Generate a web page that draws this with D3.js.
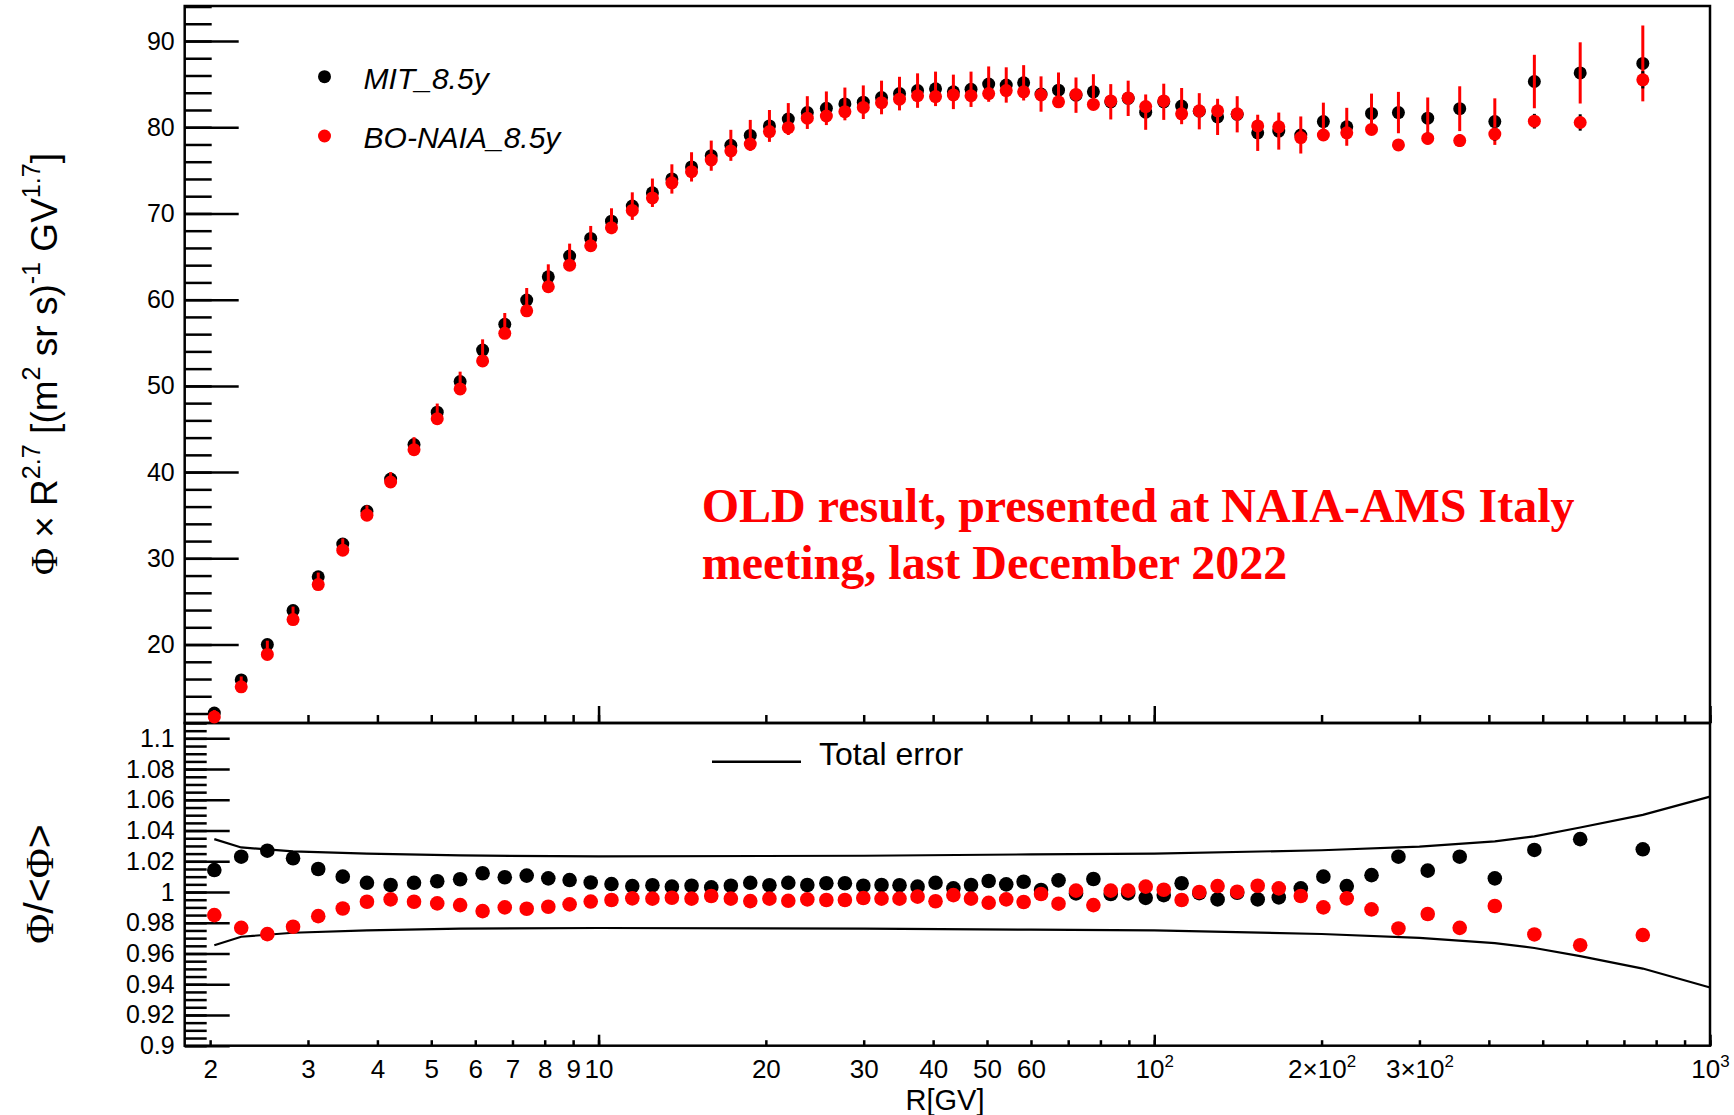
<!DOCTYPE html>
<html>
<head>
<meta charset="utf-8">
<script src="https://cdn.jsdelivr.net/npm/d3@7"></script>
<style>
  body { margin: 0; background: #fff; }
  svg { display: block; font-family: "Liberation Sans", Arial, Helvetica, sans-serif; }
</style>
</head>
<body>
<svg id="chart" width="1734" height="1115"></svg>
<script>
// Rigidity bin centres [GV]
const rigidity = [2.035, 2.275, 2.535, 2.82, 3.13, 3.465, 3.83, 4.225, 4.655, 5.125,
  5.635, 6.185, 6.78, 7.425, 8.12, 8.87, 9.68, 10.55, 11.5, 12.5,
  13.55, 14.7, 15.95, 17.3, 18.75, 20.3, 21.95, 23.75, 25.7, 27.75,
  29.95, 32.3, 34.8, 37.5, 40.4, 43.5, 46.8, 50.35, 54.15, 58.2,
  62.55, 67.25, 72.3, 77.7, 83.5, 89.75, 96.5, 104, 112, 120.5,
  130, 141, 153.5, 167.5, 183.5, 201.5, 222, 246, 275, 310.5,
  354.5, 410, 483, 584, 757];

// Flux x R^2.7, MIT analysis
const fluxMIT = [12.05, 15.9, 20.0, 23.95, 27.85, 31.65, 35.45, 39.2, 43.2, 46.95,
  50.5, 54.15, 57.15, 59.95, 62.65, 65.05, 67.1, 69.1, 70.85, 72.4,
  74.0, 75.4, 76.7, 77.9, 79.05, 80.15, 80.95, 81.7, 82.2, 82.7,
  82.9, 83.45, 83.9, 84.25, 84.45, 84.1, 84.4, 85.0, 84.9, 85.15,
  83.85, 84.3, 83.72, 84.1, 82.95, 83.35, 81.75, 82.95, 82.45, 81.85,
  81.2, 81.5, 79.35, 79.55, 79.1, 80.65, 80.05, 81.6, 81.7, 81.05,
  82.15, 80.65, 85.3, 86.3, 87.4];
const errMIT = [0.35, 0.4, 0.45, 0.45, 0.5, 0.65, 0.7, 0.8, 0.85, 1.0,
  1.15, 1.25, 1.3, 1.4, 1.45, 1.45, 1.45, 1.5, 1.6, 1.65,
  1.7, 1.7, 1.75, 1.8, 1.8, 1.85, 1.85, 1.9, 1.95, 1.9,
  1.95, 1.95, 1.95, 2.0, 2.0, 2.0, 2.05, 2.05, 2.05, 2.05,
  2.05, 2.05, 2.05, 2.05, 2.05, 2.05, 2.05, 2.1, 2.1, 2.1,
  2.1, 2.1, 2.1, 2.15, 2.15, 2.2, 2.2, 2.3, 2.4, 2.4,
  2.6, 2.7, 3.1, 3.55, 4.4];

// Flux x R^2.7, BO-NAIA analysis
const fluxBO = [11.6, 15.1, 18.85, 22.9, 26.95, 30.95, 35.0, 38.85, 42.6, 46.2,
  49.65, 52.9, 56.1, 58.7, 61.5, 64.0, 66.25, 68.35, 70.35, 71.8,
  73.55, 74.85, 76.2, 77.25, 78.05, 79.5, 79.95, 81.05, 81.3, 81.8,
  82.3, 82.85, 83.25, 83.65, 83.55, 83.75, 83.65, 83.9, 84.25, 84.1,
  83.75, 82.95, 83.8, 82.65, 83.05, 83.4, 82.4, 83.05, 81.55, 81.9,
  81.9, 81.55, 80.15, 80.05, 78.8, 79.1, 79.35, 79.75, 77.95, 78.7,
  78.45, 79.2, 80.7, 80.55, 85.5];
const errBO = [0.1, 0.1, 0.12, 0.12, 0.14, 0.15, 0.16, 0.18, 0.2, 0.2,
  0.22, 0.22, 0.24, 0.25, 0.25, 0.26, 0.26, 0.27, 0.28, 0.28,
  0.29, 0.3, 0.3, 0.3, 0.31, 0.31, 0.32, 0.32, 0.33, 0.33,
  0.34, 0.34, 0.35, 0.35, 0.36, 0.36, 0.37, 0.37, 0.38, 0.38,
  0.39, 0.4, 0.4, 0.41, 0.42, 0.43, 0.44, 0.45, 0.46, 0.47,
  0.48, 0.5, 0.52, 0.54, 0.56, 0.58, 0.6, 0.62, 0.65, 0.68,
  0.72, 0.78, 0.85, 0.95, 1.0];

// Ratio to the mean of the two analyses
const ratioMIT = [1.0143, 1.023, 1.0269, 1.022, 1.015, 1.01, 1.006, 1.0046, 1.006, 1.007,
  1.0083, 1.0122, 1.0096, 1.0107, 1.0089, 1.0078, 1.0062, 1.0052, 1.0039, 1.0044,
  1.0035, 1.0041, 1.003, 1.0041, 1.006, 1.0044, 1.006, 1.0046, 1.0057, 1.0057,
  1.0041, 1.0046, 1.0044, 1.0035, 1.006, 1.0024, 1.0046, 1.0072, 1.005, 1.0067,
  1.0013, 1.0076, 0.9991, 1.0085, 0.9987, 0.9991, 0.9962, 0.998, 1.0057, 0.9993,
  0.9952, 0.9995, 0.9952, 0.9965, 1.0024, 1.01, 1.0039, 1.011, 1.023, 1.0139,
  1.023, 1.0089, 1.0274, 1.0344, 1.0278];
const ratioBO = [0.985, 0.9767, 0.9726, 0.9774, 0.9843, 0.9893, 0.9937, 0.9952, 0.9937, 0.9926,
  0.9915, 0.9876, 0.99, 0.9891, 0.9904, 0.992, 0.9938, 0.9948, 0.9959, 0.9957,
  0.9963, 0.9957, 0.9974, 0.9957, 0.9941, 0.9957, 0.9943, 0.9952, 0.9948, 0.9948,
  0.9961, 0.9957, 0.9957, 0.997, 0.994, 0.998, 0.9957, 0.993, 0.9952, 0.9935,
  0.9987, 0.9924, 1.0009, 0.9915, 1.0009, 1.0009, 1.0035, 1.0015, 0.9948, 1.0,
  1.0039, 1.0002, 1.0041, 1.0024, 0.9974, 0.99, 0.9959, 0.9887, 0.9763, 0.9857,
  0.9767, 0.9909, 0.9724, 0.9654, 0.972];

// Total error envelope
const bandR = [2.035, 2.275, 2.82, 3.83, 5.635, 10, 30, 60, 100, 200, 300, 410, 483, 584, 757, 1000];
const bandUp = [1.0344, 1.029, 1.0265, 1.025, 1.0238, 1.0232, 1.0236, 1.0245, 1.025, 1.0272, 1.0296, 1.033, 1.0362, 1.042, 1.0502, 1.0621];
const bandLow = [0.9654, 0.9709, 0.9735, 0.975, 0.9762, 0.9766, 0.9762, 0.9755, 0.975, 0.9727, 0.9702, 0.9668, 0.9636, 0.9583, 0.9502, 0.9379];

// Axis ticks and labels
const xTickValues = [2, 3, 4, 5, 6, 7, 8, 9, 10, 20, 30, 40, 50, 60, 100, 200, 300, 1000];
const xTickLabels = ["2", "3", "4", "5", "6", "7", "8", "9", "10", "20", "30", "40", "50", "60", "10^2", "2\u00d710^2", "3\u00d710^2", "10^3"];
const yTopTicks = [20, 30, 40, 50, 60, 70, 80, 90];
const yBotTicks = [0.9, 0.92, 0.94, 0.96, 0.98, 1, 1.02, 1.04, 1.06, 1.08, 1.1];
const yBotLabels = ["0.9", "0.92", "0.94", "0.96", "0.98", "1", "1.02", "1.04", "1.06", "1.08", "1.1"];

const seriesNames = ["MIT_8.5y", "BO-NAIA_8.5y"];
const noteLines = ["OLD result, presented at NAIA-AMS Italy", "meeting, last December 2022"];

// ---- layout ----
const L = 184.7, Rt = 1710, T0 = 6, T1 = 723, B1 = 1045.7;
const RED = "#ff0000", BLK = "#000000";
const SANS = "'Liberation Sans', Arial, Helvetica, sans-serif";
const SERIF = "'Liberation Serif', 'Times New Roman', serif";

const svg = d3.select("#chart");
const x = d3.scaleLog().domain([1.8, 1000]).range([L, Rt]);
const yF = d3.scaleLinear().domain([10.9, 94.06]).range([T1, T0]);
const yR = d3.scaleLinear().domain([0.9, 1.11]).range([B1, T1]);

const minorX = [];
[1, 10, 100].forEach(dec => { for (let k = 1; k < 10; k++) { const v = k * dec; if (v >= 1.8) minorX.push(v); } });
minorX.push(1000);
const majorX = [10, 100, 1000];

function tickAxis(g, axis, w) {
  g.call(axis).call(s => s.select(".domain").remove());
  g.selectAll(".tick line").attr("stroke", BLK).attr("stroke-width", w);
  g.selectAll(".tick text").remove();
}
function styleLabels(g, size) {
  g.select(".domain").remove();
  g.attr("font-family", SANS).attr("font-size", size);
  g.selectAll("text").attr("fill", BLK);
}

// rich text: plain runs and superscripts
function rich(textSel, parts, size, supScale = 0.7, raise = 0.42) {
  let shift = 0;
  parts.forEach(p => {
    const fs = p.sup ? size * supScale : size;
    const target = p.sup ? -size * raise : 0;
    const ts = textSel.append("tspan").text(p.t).attr("font-size", fs)
      .attr("font-family", p.serif ? SERIF : SANS);
    if (target !== shift) { ts.attr("dy", target - shift); shift = target; }
  });
}
function parseLabel(s) {
  const k = s.indexOf("^");
  if (k < 0) return [{ t: s }];
  return [{ t: s.slice(0, k) }, { t: s.slice(k + 1), sup: true }];
}

// ---- upper panel axes ----
tickAxis(svg.append("g").attr("transform", `translate(0,${T1})`),
  d3.axisTop(x).tickValues(minorX).tickSize(8).tickFormat(""), 2.5);
tickAxis(svg.append("g").attr("transform", `translate(0,${T1})`),
  d3.axisTop(x).tickValues(majorX).tickSize(17).tickFormat(""), 2.5);
tickAxis(svg.append("g").attr("transform", `translate(${L},0)`),
  d3.axisRight(yF).tickValues(d3.range(12, 94.1, 2)).tickSize(27).tickFormat(""), 2.5);
tickAxis(svg.append("g").attr("transform", `translate(${L},0)`),
  d3.axisRight(yF).tickValues(yTopTicks).tickSize(54).tickFormat(""), 2.5);

styleLabels(svg.append("g").attr("transform", `translate(${L},0)`)
  .call(d3.axisLeft(yF).tickValues(yTopTicks).tickSize(0).tickPadding(10).tickFormat(d => d)), 25);

// ---- lower panel axes ----
tickAxis(svg.append("g").attr("transform", `translate(0,${B1})`),
  d3.axisTop(x).tickValues(minorX).tickSize(5.5).tickFormat(""), 2.5);
tickAxis(svg.append("g").attr("transform", `translate(0,${B1})`),
  d3.axisTop(x).tickValues(majorX).tickSize(11).tickFormat(""), 2.5);
tickAxis(svg.append("g").attr("transform", `translate(${L},0)`),
  d3.axisRight(yR).tickValues(d3.range(0, 43).map(i => +(0.9 + i * 0.005).toFixed(3))).tickSize(22).tickFormat(""), 2.5);
tickAxis(svg.append("g").attr("transform", `translate(${L},0)`),
  d3.axisRight(yR).tickValues(yBotTicks).tickSize(45).tickFormat(""), 2.5);

styleLabels(svg.append("g").attr("transform", `translate(${L},0)`)
  .call(d3.axisLeft(yR).tickValues(yBotTicks).tickSize(0).tickPadding(10).tickFormat((d, i) => yBotLabels[i])), 25);

const xLab = svg.append("g").attr("transform", `translate(0,${B1})`)
  .call(d3.axisBottom(x).tickValues(xTickValues).tickSize(0).tickPadding(13.5).tickFormat(""));
styleLabels(xLab, 26);
xLab.selectAll(".tick text").each(function (d, i) {
  const t = d3.select(this).text(null);
  rich(t, parseLabel(xTickLabels[i]), 26, 0.65, 0.42);
});

// ---- frames ----
[[T0, T1], [T1, B1]].forEach(([a, b]) => {
  svg.append("rect").attr("x", L).attr("y", a).attr("width", Rt - L).attr("height", b - a)
    .attr("fill", "none").attr("stroke", BLK).attr("stroke-width", 2.5);
});

// ---- upper panel data ----
const idx = d3.range(rigidity.length);
const gData = svg.append("g");
gData.selectAll("circle.mit").data(idx).join("circle")
  .attr("cx", i => x(rigidity[i])).attr("cy", i => yF(fluxMIT[i])).attr("r", 6.5).attr("fill", BLK);
gData.selectAll("line.emit").data(idx).join("line")
  .attr("x1", i => x(rigidity[i])).attr("x2", i => x(rigidity[i]))
  .attr("y1", i => yF(fluxMIT[i] - errMIT[i])).attr("y2", i => yF(fluxMIT[i] + errMIT[i]))
  .attr("stroke", RED).attr("stroke-width", 3);
gData.selectAll("line.ebo").data(idx).join("line")
  .attr("x1", i => x(rigidity[i])).attr("x2", i => x(rigidity[i]))
  .attr("y1", i => yF(fluxBO[i] - errBO[i])).attr("y2", i => yF(fluxBO[i] + errBO[i]))
  .attr("stroke", BLK).attr("stroke-width", 3);
gData.selectAll("circle.bo").data(idx).join("circle")
  .attr("cx", i => x(rigidity[i])).attr("cy", i => yF(fluxBO[i])).attr("r", 6.5).attr("fill", RED);

// legend (upper panel)
svg.append("circle").attr("cx", 324.5).attr("cy", 76.7).attr("r", 6.5).attr("fill", BLK);
svg.append("circle").attr("cx", 324.5).attr("cy", 136).attr("r", 6.5).attr("fill", RED);
[89, 148].forEach((yy, k) => {
  svg.append("text").attr("x", 363.6).attr("y", yy).attr("font-family", SANS)
    .attr("font-size", 30).attr("font-style", "italic").attr("fill", BLK).text(seriesNames[k]);
});

// note
noteLines.forEach((s, k) => {
  svg.append("text").attr("x", 701.7).attr("y", 521.7 + k * 57.3)
    .attr("font-family", SERIF).attr("font-weight", "bold").attr("font-size", 48)
    .attr("fill", RED).text(s);
});

// ---- lower panel data ----
const line = d3.line().x(d => x(d[0])).y(d => yR(d[1]));
svg.append("path").datum(bandR.map((r, i) => [r, bandUp[i]])).attr("d", line)
  .attr("fill", "none").attr("stroke", BLK).attr("stroke-width", 2.2);
svg.append("path").datum(bandR.map((r, i) => [r, bandLow[i]])).attr("d", line)
  .attr("fill", "none").attr("stroke", BLK).attr("stroke-width", 2.2);

const gRat = svg.append("g");
gRat.selectAll("circle.rm").data(idx).join("circle")
  .attr("cx", i => x(rigidity[i])).attr("cy", i => yR(ratioMIT[i])).attr("r", 7.3).attr("fill", BLK);
gRat.selectAll("circle.rb").data(idx).join("circle")
  .attr("cx", i => x(rigidity[i])).attr("cy", i => yR(ratioBO[i])).attr("r", 7.3).attr("fill", RED);

// legend (lower panel)
svg.append("line").attr("x1", 712).attr("x2", 801).attr("y1", 761.7).attr("y2", 761.7)
  .attr("stroke", BLK).attr("stroke-width", 2.5);
svg.append("text").attr("x", 819).attr("y", 765).attr("font-family", SANS)
  .attr("font-size", 32).attr("fill", BLK).text("Total error");

// ---- axis titles ----
const yt = svg.append("text").attr("transform", "translate(57,364) rotate(-90)")
  .attr("text-anchor", "middle").attr("fill", BLK);
rich(yt, [
  { t: "\u03a6", serif: true }, { t: " \u00d7 " }, { t: "R" }, { t: "2.7", sup: true },
  { t: " [(m" }, { t: "2", sup: true }, { t: " sr s)" }, { t: "-1", sup: true },
  { t: " GV" }, { t: "1.7", sup: true }, { t: "]" }
], 37, 0.68, 0.45);

const yb = svg.append("text").attr("transform", "translate(53,884) rotate(-90)")
  .attr("text-anchor", "middle").attr("fill", BLK);
rich(yb, [{ t: "\u03a6", serif: true }, { t: "/<" }, { t: "\u03a6", serif: true }, { t: ">" }], 41);

svg.append("text").attr("x", 945).attr("y", 1110).attr("text-anchor", "middle")
  .attr("font-family", SANS).attr("font-size", 29).attr("fill", BLK).text("R[GV]");
</script>
</body>
</html>
